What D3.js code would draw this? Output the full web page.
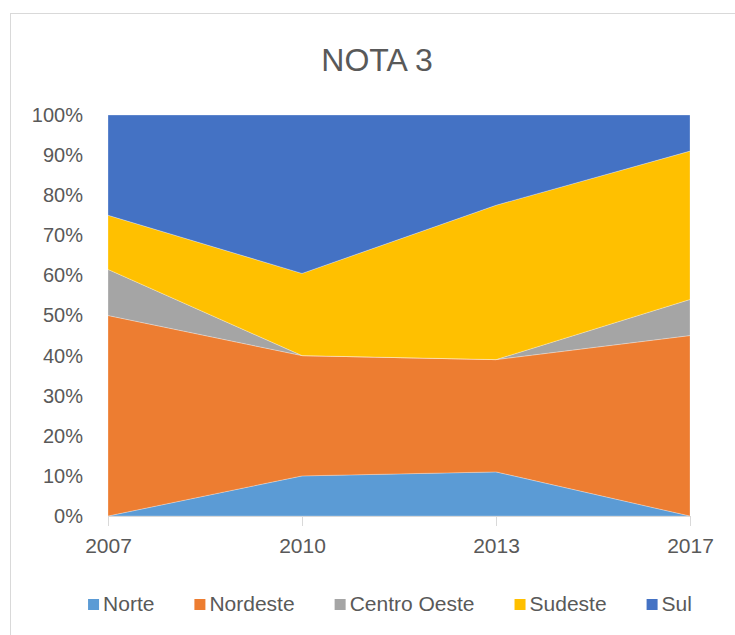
<!DOCTYPE html>
<html>
<head>
<meta charset="utf-8">
<script src="https://cdn.jsdelivr.net/npm/d3@7"></script>
<style>
  body { margin: 0; background: #fff; }
  text { font-family: "Liberation Sans", Arial, sans-serif; fill: #595959; }
</style>
</head>
<body>
<div id="chart"></div>
<script>
// data (percent of each year)
var years = ["2007", "2010", "2013", "2017"];
var norte = [0, 10, 11, 0];
var nordeste = [50, 30, 28, 45];
var centroOeste = [11.5, 0, 0, 9];
var sudeste = [13.5, 20.5, 38.5, 37];
var sul = [25, 39.5, 22.5, 9];

var seriesNames = ["Norte", "Nordeste", "Centro Oeste", "Sudeste", "Sul"];
var seriesColors = ["#5b9bd5", "#ed7d31", "#a5a5a5", "#ffc000", "#4472c4"];
var yTicks = [0, 0.1, 0.2, 0.3, 0.4, 0.5, 0.6, 0.7, 0.8, 0.9, 1];

var w = 735, h = 635;

var rows = years.map(function(y, i) {
  return { year: y, "Norte": norte[i], "Nordeste": nordeste[i],
    "Centro Oeste": centroOeste[i], "Sudeste": sudeste[i], "Sul": sul[i] };
});

var svg = d3.select("#chart").append("svg")
  .attr("width", w)
  .attr("height", h);

// chart frame
svg.append("rect")
  .attr("x", 10.5).attr("y", 13.5)
  .attr("width", 740).attr("height", 640)
  .style("fill", "#fff")
  .style("stroke", "#d9d9d9");

var x = d3.scalePoint().domain(years).range([108, 690]);
var y = d3.scaleLinear().domain([0, 1]).range([516, 115]);

var stack = d3.stack()
  .keys(seriesNames)
  .offset(d3.stackOffsetExpand);
var layers = stack(rows);

var area = d3.area()
  .x(function(d) { return x(d.data.year); })
  .y0(function(d) { return y(d[0]); })
  .y1(function(d) { return y(d[1]); });

svg.append("g").selectAll("path")
  .data(layers)
  .enter().append("path")
  .attr("d", area)
  .style("fill", function(d, i) { return seriesColors[i]; })
  .style("stroke", "rgba(255,255,255,0.35)")
  .style("stroke-width", 0.8);

// y axis labels
var yAxis = d3.axisLeft(y)
  .tickValues(yTicks)
  .tickFormat(d3.format(".0%"))
  .tickSize(0)
  .tickPadding(24);
var gy = svg.append("g")
  .attr("transform", "translate(107,0)")
  .call(yAxis);
gy.select(".domain").remove();
gy.selectAll("text").style("font-size", "20px").style("fill", "#595959")
  .style("font-family", "'Liberation Sans', Arial, sans-serif");

// x axis
var xAxis = d3.axisBottom(x).tickSize(10).tickPadding(12);
var gx = svg.append("g")
  .attr("transform", "translate(0,516)")
  .call(xAxis);
gx.select(".domain").style("stroke", "#d9d9d9");
gx.selectAll(".tick line").style("stroke", "#d9d9d9");
gx.selectAll("text").style("font-size", "21px").style("fill", "#595959")
  .style("font-family", "'Liberation Sans', Arial, sans-serif");

// title
svg.append("text")
  .attr("x", 377).attr("y", 71)
  .attr("text-anchor", "middle")
  .style("font-size", "32px")
  .text("NOTA 3");

// legend
var lg = svg.append("g");
var items = lg.selectAll("g")
  .data(seriesNames)
  .enter().append("g");
items.append("rect")
  .attr("width", 11).attr("height", 11)
  .attr("y", -12)
  .style("fill", function(d, i) { return seriesColors[i]; });
items.append("text")
  .attr("x", 15)
  .style("font-size", "21px")
  .text(function(d) { return d; });

var gap = 40;
var pos = 0;
items.each(function() {
  var t = d3.select(this).select("text").node().getComputedTextLength();
  d3.select(this).attr("transform", "translate(" + pos + ",0)");
  pos += 15 + t + gap;
});
pos -= gap;
lg.attr("transform", "translate(" + (390 - pos / 2) + ",611)");
</script>
</body>
</html>
